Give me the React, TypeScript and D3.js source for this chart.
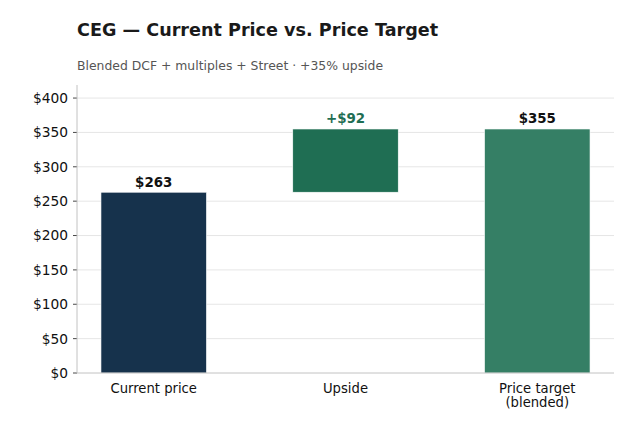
import React from "react";
import * as d3 from "d3";

const categories = ["Current price", "Upside", "Price target\n(blended)"];
const barBase = [0, 263, 0];
const barTop = [263, 355, 355];
const barLabels = ["$263", "+$92", "$355"];
const barColors = ["#16324c", "#1f6e53", "#357f65"];
const labelColors = ["#111111", "#1f6e53", "#111111"];
const yTicks = [0, 50, 100, 150, 200, 250, 300, 350, 400];

const W = 640, H = 424;
const left = 77, right = 614, top = 85, bottom = 373;

export default function App() {
  const x = d3.scaleLinear().domain([-0.4, 2.4]).range([left, right]);
  const y = d3.scaleLinear().domain([0, 419]).range([bottom, top]);
  const bw = x(0.55) - x(0);
  const font = "DejaVu Sans, sans-serif";
  return (
    <svg width={W} height={H} style={{ position: "absolute", left: 0, top: 0, background: "#fff" }} fontFamily={font}>
      <rect width={W} height={H} fill="#fff" />
      <text x={77} y={35.5} fontSize={17.6} fontWeight="bold" fill="#1a1a1a">CEG — Current Price vs. Price Target</text>
      <text x={77} y={69.5} fontSize={12.4} fill="#555">Blended DCF + multiples + Street · +35% upside</text>
      {yTicks.map((t) => (
        <g key={t}>
          {t > 0 && <line x1={left} x2={right} y1={y(t)} y2={y(t)} stroke="#e3e3e3" strokeWidth={0.9} />}
          <line x1={left - 4} x2={left} y1={y(t)} y2={y(t)} stroke="#333" strokeWidth={0.9} />
          <text x={left - 9} y={y(t)} dy="0.36em" textAnchor="end" fontSize={13.8} fill="#111">{`$${t}`}</text>
        </g>
      ))}
      {categories.map((c, i) => (
        <g key={c}>
          <rect x={x(i) - bw / 2} y={y(barTop[i])} width={bw} height={y(barBase[i]) - y(barTop[i])} fill={barColors[i]} stroke="#fff" strokeWidth={0.6} />
          <text x={x(i)} y={y(barTop[i]) - 5.5} textAnchor="middle" fontSize={13.4} fontWeight="bold" fill={labelColors[i]}>{barLabels[i]}</text>
          {c.split("\n").map((ln, k) => (
            <text key={k} x={x(i)} y={392.5 + k * 14.5} textAnchor="middle" fontSize={13.2} fill="#111">{ln}</text>
          ))}
        </g>
      ))}
      <line x1={left} x2={left} y1={top} y2={bottom} stroke="#bbb" strokeWidth={0.9} />
      <line x1={left} x2={right} y1={bottom} y2={bottom} stroke="#bbb" strokeWidth={0.9} />
    </svg>
  );
}
